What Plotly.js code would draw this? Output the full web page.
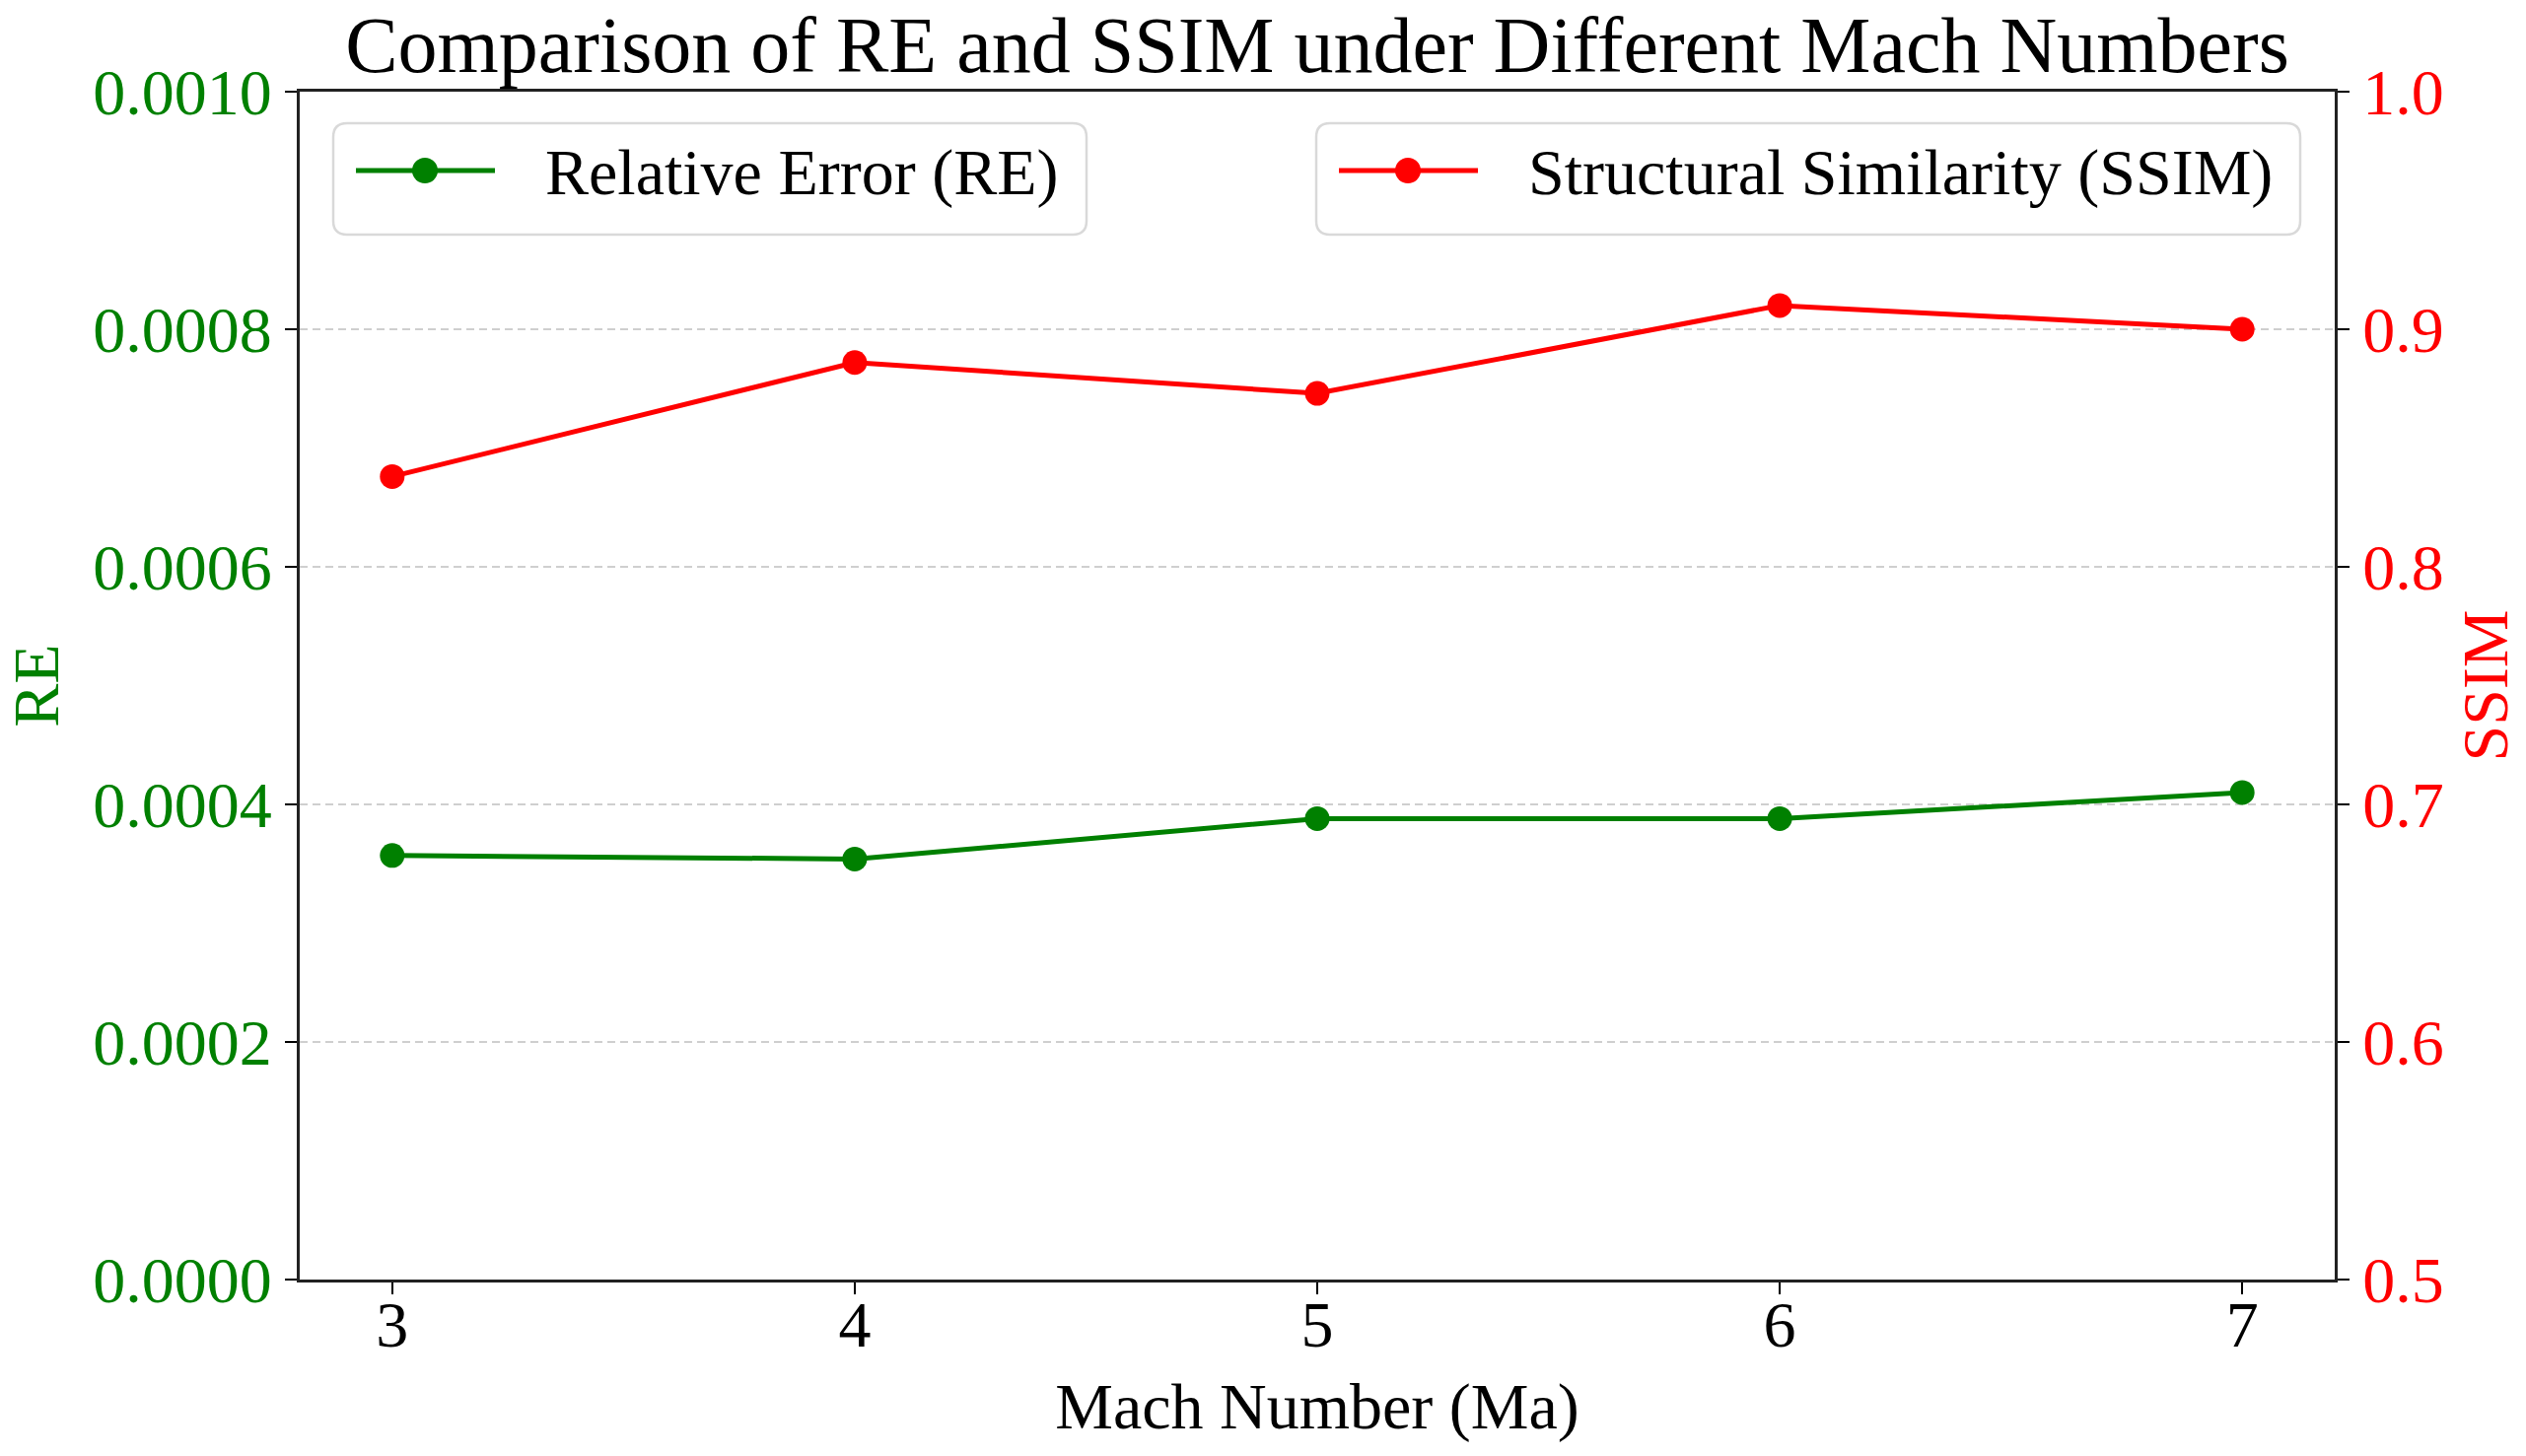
<!DOCTYPE html>
<html>
<head>
<meta charset="utf-8">
<script src="https://cdn.plot.ly/plotly-3.0.1.min.js"></script>
<style>
html,body{margin:0;padding:0;background:#fff;}
#chart{width:2562px;height:1477px;}
</style>
</head>
<body>
<div id="chart"></div>
<script>
// Data
var machNumbers = [3, 4, 5, 6, 7];
var reValues = [0.000357, 0.000354, 0.000388, 0.000388, 0.000410];
var ssimValues = [0.838, 0.886, 0.873, 0.910, 0.900];
var reTickVals = [0, 0.0002, 0.0004, 0.0006, 0.0008, 0.0010];
var ssimTickVals = [0.5, 0.6, 0.7, 0.8, 0.9, 1.0];
var seriesNames = ['Relative Error (RE)', 'Structural Similarity (SSIM)'];

var FONT = '"Liberation Serif", "Times New Roman", serif';
var GREEN = '#008000';
var RED = '#ff0000';

// plot-area geometry (pixels) used only to place the legend boxes
var W = 2562, H = 1477;
var M = {l: 304, r: 194, t: 93, b: 179};
var PW = W - M.l - M.r, PH = H - M.t - M.b;
function px(x) { return (x - M.l) / PW; }
function py(y) { return (H - M.b - y) / PH; }

function roundRect(x0, y0, x1, y1, r) {
  // pixel rect -> paper path with rounded corners
  var X = function (v) { return px(v).toFixed(6); };
  var Y = function (v) { return py(v).toFixed(6); };
  return 'M' + X(x0 + r) + ',' + Y(y0) +
    ' L' + X(x1 - r) + ',' + Y(y0) +
    ' Q' + X(x1) + ',' + Y(y0) + ' ' + X(x1) + ',' + Y(y0 + r) +
    ' L' + X(x1) + ',' + Y(y1 - r) +
    ' Q' + X(x1) + ',' + Y(y1) + ' ' + X(x1 - r) + ',' + Y(y1) +
    ' L' + X(x0 + r) + ',' + Y(y1) +
    ' Q' + X(x0) + ',' + Y(y1) + ' ' + X(x0) + ',' + Y(y1 - r) +
    ' L' + X(x0) + ',' + Y(y0 + r) +
    ' Q' + X(x0) + ',' + Y(y0) + ' ' + X(x0 + r) + ',' + Y(y0) + ' Z';
}

var traces = [
  {
    x: machNumbers, y: reValues, type: 'scatter', mode: 'lines+markers',
    name: seriesNames[0], yaxis: 'y',
    line: {color: GREEN, width: 5},
    marker: {color: GREEN, size: 25}
  },
  {
    x: machNumbers, y: ssimValues, type: 'scatter', mode: 'lines+markers',
    name: seriesNames[1], yaxis: 'y2',
    line: {color: RED, width: 5},
    marker: {color: RED, size: 25}
  }
];

// legend boxes (pixel positions of box left, box right), shared top/bottom
var legendBoxes = [
  {x0: 338, x1: 1102, color: GREEN, name: seriesNames[0]},
  {x0: 1335, x1: 2333, color: RED, name: seriesNames[1]}
];
var LTOP = 125, LBOT = 238, LMID = 173;

var shapes = [], annotations = [];
legendBoxes.forEach(function (b) {
  shapes.push({
    type: 'path', xref: 'paper', yref: 'paper', layer: 'above',
    path: roundRect(b.x0, LTOP, b.x1, LBOT, 14),
    fillcolor: 'rgba(255,255,255,0.8)',
    line: {color: '#d9d9d9', width: 2.5}
  });
  shapes.push({
    type: 'line', xref: 'paper', yref: 'paper', layer: 'above',
    x0: px(b.x0 + 23), x1: px(b.x0 + 164), y0: py(LMID), y1: py(LMID),
    line: {color: b.color, width: 5}
  });
  shapes.push({
    type: 'circle', xref: 'paper', yref: 'paper', layer: 'above',
    x0: px(b.x0 + 93 - 13), x1: px(b.x0 + 93 + 13),
    y0: py(LMID + 13), y1: py(LMID - 13),
    fillcolor: b.color, line: {color: b.color, width: 0}
  });
  annotations.push({
    xref: 'paper', yref: 'paper', x: px(b.x0 + 213), y: py(LMID + 2),
    xanchor: 'left', yanchor: 'middle', showarrow: false,
    text: b.name, font: {family: FONT, size: 66, color: '#000'}
  });
});

var layout = {
  width: W, height: H,
  paper_bgcolor: '#fff', plot_bgcolor: '#fff',
  margin: {l: M.l, r: M.r, t: M.t, b: M.b, pad: 0},
  font: {family: FONT, size: 66, color: '#000'},
  title: {
    text: 'Comparison of RE and SSIM under Different Mach Numbers',
    font: {family: FONT, size: 80, color: '#000'},
    x: 0.5, xref: 'paper', xanchor: 'center',
    y: 1, yref: 'paper', yanchor: 'bottom',
    pad: {b: 20}
  },
  showlegend: false,
  shapes: shapes,
  annotations: annotations,
  xaxis: {
    range: [2.8, 7.2],
    tickvals: machNumbers,
    ticks: 'outside', ticklen: 12, tickwidth: 2.5, tickcolor: '#000',
    ticklabelstandoff: -26,
    tickfont: {family: FONT, size: 66, color: '#000'},
    showline: true, linecolor: '#222', linewidth: 3, mirror: true,
    showgrid: false, zeroline: false,
    title: {text: 'Mach Number (Ma)', font: {family: FONT, size: 66, color: '#000'}, standoff: 24}
  },
  yaxis: {
    range: [0, 0.001],
    tickvals: reTickVals, tickformat: '.4f',
    ticks: 'outside', ticklen: 12, tickwidth: 2.5, tickcolor: '#000',
    tickfont: {family: FONT, size: 66, color: GREEN},
    showline: true, linecolor: '#222', linewidth: 3,
    showgrid: true, gridcolor: '#cfcfcf', gridwidth: 2.5, griddash: '8px,5px',
    zeroline: false,
    title: {text: 'RE', font: {family: FONT, size: 66, color: GREEN}, standoff: 22}
  },
  yaxis2: {
    range: [0.5, 1.0], overlaying: 'y', side: 'right',
    tickvals: ssimTickVals, tickformat: '.1f',
    ticks: 'outside', ticklen: 12, tickwidth: 2.5, tickcolor: '#000',
    tickfont: {family: FONT, size: 66, color: RED},
    showline: true, linecolor: '#222', linewidth: 3,
    showgrid: false, zeroline: false,
    title: {text: 'SSIM', font: {family: FONT, size: 66, color: RED}, standoff: 20}
  }
};

Plotly.newPlot('chart', traces, layout, {displayModeBar: false, staticPlot: true});
</script>
</body>
</html>
